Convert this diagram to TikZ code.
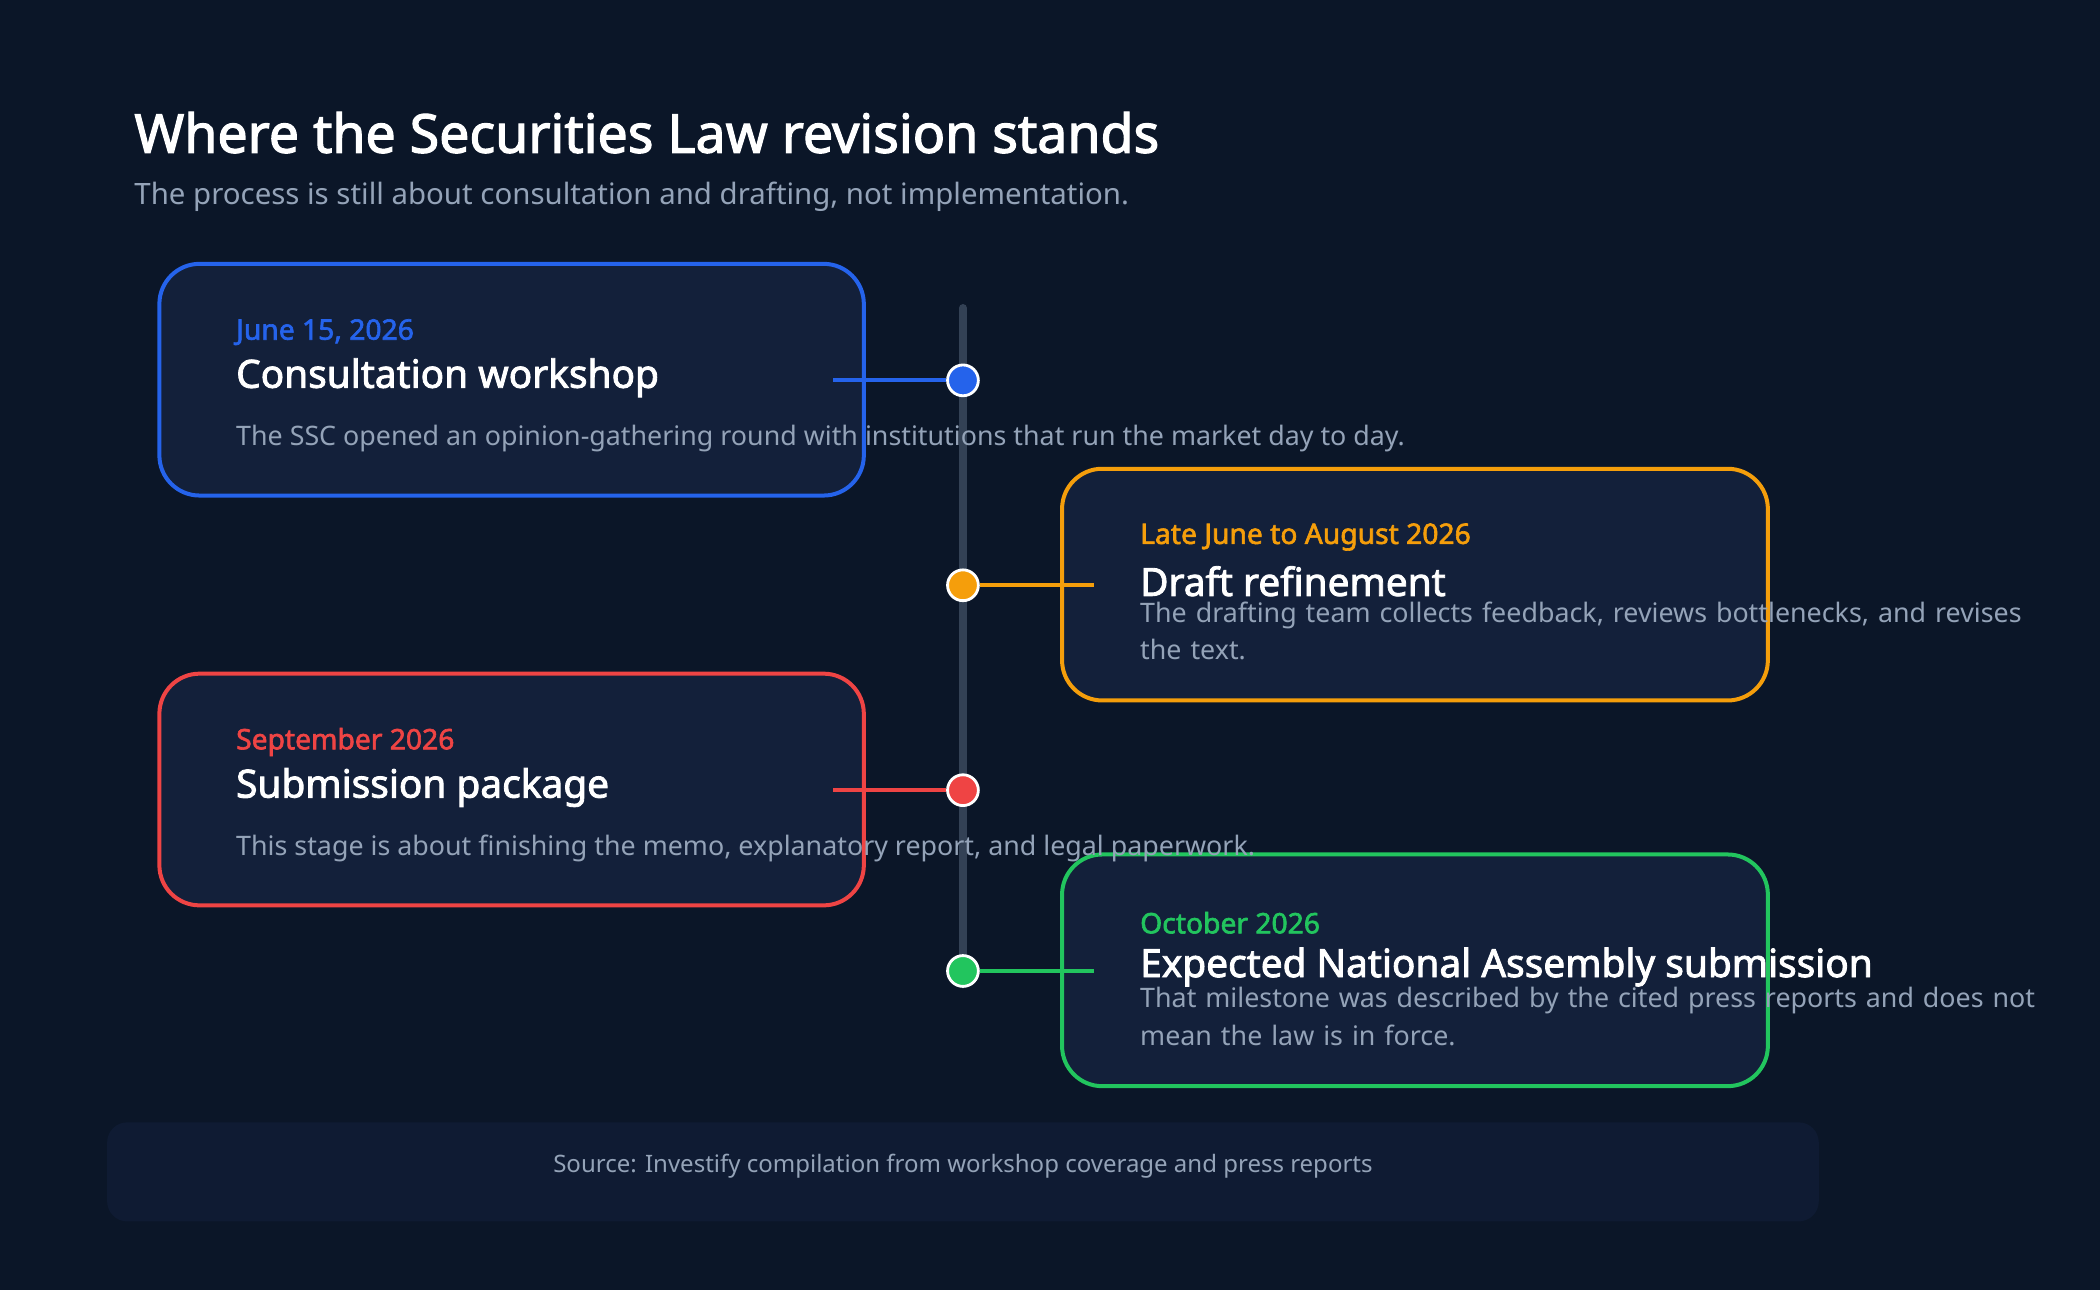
\documentclass[tikz,border=0pt]{standalone}
\usepackage{fontspec}
\setmainfont{Noto Sans}[BoldFont={Noto Sans}, BoldFeatures={FakeBold=2.2}]
\definecolor{bgc}{HTML}{0B1628}
\definecolor{cardc}{HTML}{13203A}
\definecolor{footc}{HTML}{0F1B33}
\definecolor{railc}{HTML}{334155}
\definecolor{greyc}{HTML}{94A3B8}
\definecolor{bluec}{HTML}{2563EB}
\definecolor{orangec}{HTML}{F59E0B}
\definecolor{redc}{HTML}{EF4444}
\definecolor{greenc}{HTML}{22C55E}
\tikzset{
  card/.style={draw=#1, line width=1.7pt, fill=cardc, rounded corners=0.6cm},
  dot/.style={circle, fill=#1, draw=white, line width=1.2pt, minimum size=0.46cm, inner sep=0pt},
  link/.style={draw=#1, line width=1.7pt},
  datetxt/.style={anchor=west, inner sep=0pt, text=#1, font=\fontsize{12}{14}\selectfont\bfseries},
  headtxt/.style={anchor=west, inner sep=0pt, text=white, font=\fontsize{16.5}{19}\selectfont\bfseries},
  desctxt/.style={anchor=north west, inner sep=0pt, text=greyc, font=\fontsize{11.4}{16}\selectfont, align=left},
}
\begin{document}
\begin{tikzpicture}[x=0.02cm,y=-0.02cm]
    \useasboundingbox (0,0) rectangle (1568,963);
    \fill[bgc] (0,0) rectangle (1568,963);

	\node[anchor=west, inner sep=0pt, text=white, font=\fontsize{22.8}{26}\selectfont\bfseries] (title) at (100,99) {Where the Securities Law revision stands};
    \node[anchor=west, inner sep=0pt, text=greyc, font=\fontsize{12.5}{15}\selectfont] (subtitle) at (100,147) {The process is still about consultation and drafting, not implementation.};

	% timeline rail
	\draw[railc, line width=3.4pt, line cap=round] (719,230) -- (719,735);

	% cards
	\draw[card=bluec] (119,197) rectangle (645,370);
	\draw[card=orangec] (793,350) rectangle (1320,523);
	\draw[card=redc] (119,503) rectangle (645,676);
	\draw[card=greenc] (793,638) rectangle (1320,811);

	% connectors
	\coordinate (c1) at (622,284);
	\coordinate (c2) at (817,437);
	\coordinate (c3) at (622,590);
	\coordinate (c4) at (817,725);
	\node[dot=bluec] (d1) at (719,284) {};
	\node[dot=orangec] (d2) at (719,437) {};
	\node[dot=redc] (d3) at (719,590) {};
	\node[dot=greenc] (d4) at (719,725) {};
	\draw[link=bluec] (c1) -- (d1);
	\draw[link=orangec] (d2) -- (c2);
	\draw[link=redc] (c3) -- (d3);
	\draw[link=greenc] (d4) -- (c4);

	% texts
	\node[datetxt=bluec] (date1) at (176,248) {June 15, 2026};
    \node[headtxt] (head1) at (176,282) {Consultation workshop};
    \node[desctxt] (desc1) at (176,317) {The SSC opened an opinion-gathering round with institutions that run the market day to day.};

	\node[datetxt=orangec] (date2) at (851,401) {Late June to August 2026};
    \node[headtxt] (head2) at (851,434) {Draft refinement};
    \node[desctxt, text width=13.9cm] (desc2) at (851,449) {The drafting team collects feedback, reviews bottlenecks, and revises the text.};

	\node[datetxt=redc] (date3) at (176,554) {September 2026};
    \node[headtxt] (head3) at (176,588) {Submission package};
    \node[desctxt] (desc3) at (176,623) {This stage is about finishing the memo, explanatory report, and legal paperwork.};

	\node[datetxt=greenc] (date4) at (851,689) {October 2026};
    \node[headtxt] (head4) at (851,722) {Expected National Assembly submission};
    \node[desctxt, text width=13.9cm] (desc4) at (851,737) {That milestone was described by the cited press reports and does not mean the law is in force.};

	% footer
	\fill[footc, rounded corners=0.3cm] (80,838) rectangle (1358,912);
    \node[text=greyc, font=\fontsize{10.2}{12}\selectfont] (source) at (719,871) {Source: Investify compilation from workshop coverage and press reports};
\end{tikzpicture}
\end{document}
